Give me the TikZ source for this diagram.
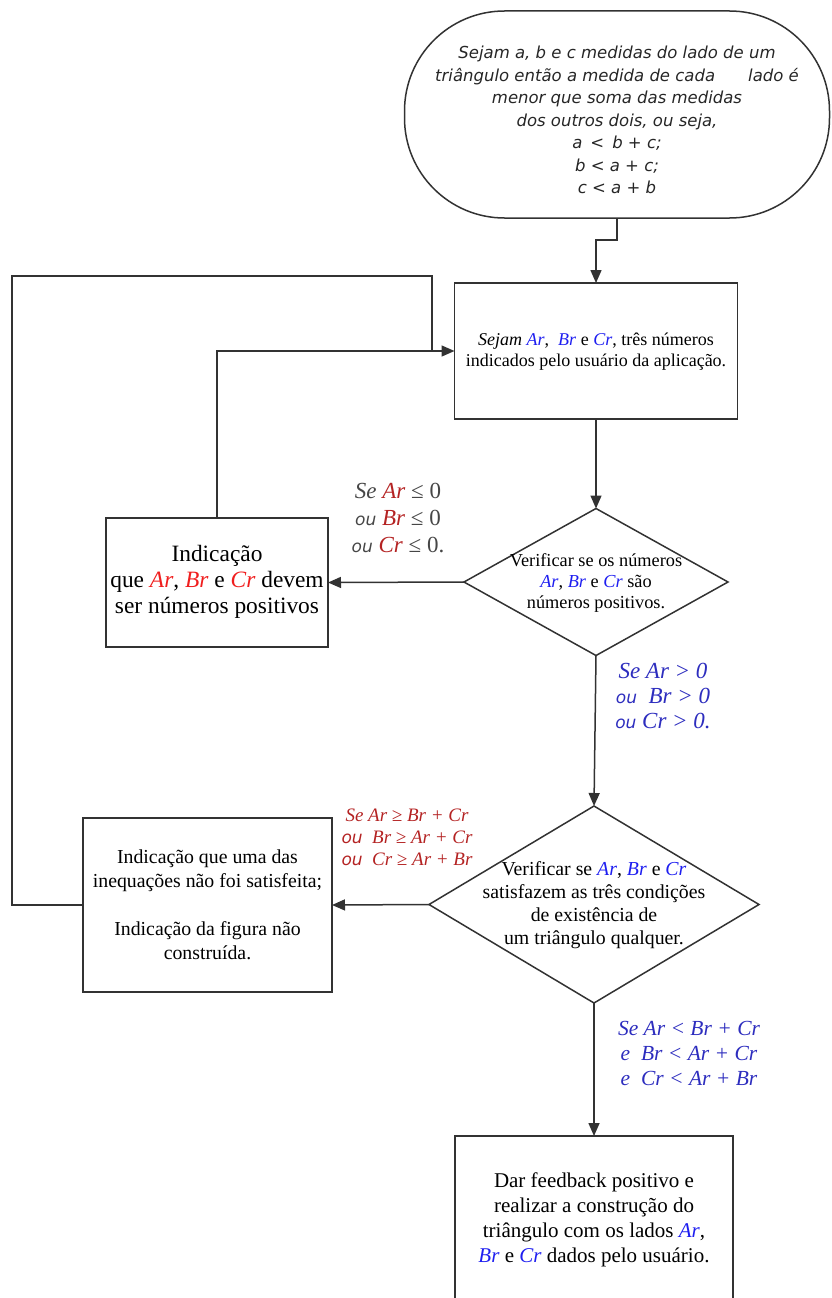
\documentclass[tikz,border=0pt]{standalone}
\usepackage{fontspec}
\setmainfont{Liberation Serif}
\newfontfamily\gothic{DejaVu Sans}
\usetikzlibrary{shapes.geometric,arrows.meta}
\definecolor{cblue}{RGB}{30,30,240}
\definecolor{lblue}{RGB}{45,45,190}
\definecolor{cred}{RGB}{240,30,30}
\definecolor{dred}{RGB}{180,35,35}
\definecolor{lgrey}{RGB}{70,70,70}
\definecolor{edge}{RGB}{50,50,50}
\newcommand\fsz[2]{\fontsize{#1}{#2}\selectfont}
\newcommand\Bl[1]{\textcolor{cblue}{\textit{#1}}}
\newcommand\Rd[1]{\textcolor{cred}{\textit{#1}}}
\newcommand\Dr[1]{\textcolor{dred}{\textit{#1}}}
\newcommand\ou{{\gothic\itshape\fontsize{17}{17}\selectfont ou}}
\begin{document}
\begin{tikzpicture}[x=1pt,y=-1pt,
  box/.style={draw=edge,line width=1.5pt,rectangle,inner sep=0pt,outer sep=0pt},
  dia/.style={draw=edge,line width=1.5pt,diamond,inner sep=0pt,outer sep=0pt},
  txt/.style={align=center,inner sep=0pt},
  conn/.style={draw=edge,line width=1.5pt},
  arr/.style={conn,-{Triangle[length=13pt,width=11pt]}}]
\useasboundingbox (0,0) rectangle (832,1298);
\clip (0,0) rectangle (832,1298);

% shapes
\node[box, rounded corners=100pt, minimum width=425pt, minimum height=207pt] (e) at (617,114.5) {};
\node[box, minimum width=283pt, minimum height=136pt] (b1) at (596,351) {};
\node[dia, minimum width=264pt, minimum height=147pt] (d1) at (596,582) {};
\node[box, minimum width=222pt, minimum height=129pt] (b2) at (217,582.5) {};
\node[dia, minimum width=330pt, minimum height=197pt] (d2) at (594,904.5) {};
\node[box, minimum width=249pt, minimum height=174pt] (b3) at (207.5,905) {};
\node[box, minimum width=278pt, minimum height=200pt] (b4) at (594,1236) {};

% texts
\node[txt, font=\gothic\itshape\fsz{16.5}{22.5}, text=black!85] (et) at (617,120)
 {Sejam a, b e c medidas do lado de um\\
  triângulo então a medida de cada\hspace{2em}lado é\\
  menor que soma das medidas\\
  dos outros dois, ou seja,\\
  a \,<\, b + c;\\
  b < a + c;\\
  c < a + b};
\node[txt, font=\fsz{18}{21}] (t1) at (596,352)
 {\textit{Sejam} \Bl{Ar},\ \ \Bl{Br} e \Bl{Cr}, três números\\
  indicados pelo usuário da aplicação.};
\node[txt, font=\fsz{23.4}{26}] (t2) at (217,582)
 {Indicação\\que \Rd{Ar}, \Rd{Br} e \Rd{Cr} devem\\ser números positivos};
\node[txt, font=\fsz{18.3}{21}] (t3) at (596,583)
 {Verificar se os números\\\Bl{Ar}, \Bl{Br} e \Bl{Cr} são\\números positivos.};
\node[txt, font=\fsz{19.8}{23}] (t4) at (594,905.5)
 {Verificar se \Bl{Ar}, \Bl{Br} e \Bl{Cr}\\satisfazem as três condições\\de existência de\\um triângulo qualquer.};
\node[txt, font=\fsz{19.8}{24}] (t5) at (207.5,904.5)
 {Indicação que uma das\\inequações não foi satisfeita;\\[24pt]Indicação da figura não\\construída.};
\node[txt, font=\fsz{21}{25}] (t6) at (594,1220)
 {Dar feedback positivo e\\realizar a construção do\\triângulo com os lados \Bl{Ar},\\\Bl{Br} e \Bl{Cr} dados pelo usuário.};

% labels
\node[txt, font=\fsz{23}{27}, text=lgrey] (l1) at (398,518)
 {\textit{Se}\ \Dr{Ar} ≤ 0\\\ou\ \Dr{Br} ≤ 0\\\ou\ \Dr{Cr} ≤ 0.};
\node[txt, font=\itshape\fsz{23}{25}, text=lblue] (l2) at (663,696)
 {Se Ar > 0\\\ou\ \ Br > 0\\\ou\ Cr > 0.};
\node[txt, font=\itshape\fsz{19}{22}, text=dred] (l3) at (407,837)
 {Se Ar ≥ Br + Cr\\\ou\ \ Br ≥ Ar + Cr\\\ou\ \ Cr ≥ Ar + Br};
\node[txt, font=\itshape\fsz{21.5}{25}, text=lblue] (l4) at (689,1053)
 {Se Ar < Br + Cr\\e\ \ Br < Ar + Cr\\e\ \ Cr < Ar + Br};

% connectors
\coordinate (lft) at (12,276);
\coordinate (jn) at (432,351);
\draw[arr] (e.south) -- ++(0,22) -| (b1.north);
\draw[arr] (b1.south) -- (d1.north);
\draw[arr] (d1.west) -- (b2.east);
\draw[arr] (b2.north) |- (b1.west);
\draw[arr] (d1.south) -- (d2.north);
\draw[arr] (d2.west) -- (b3.east);
\draw[conn] (b3.west) -| (lft) -| (jn);
\draw[arr] (d2.south) -- (b4.north);
\end{tikzpicture}
\end{document}
